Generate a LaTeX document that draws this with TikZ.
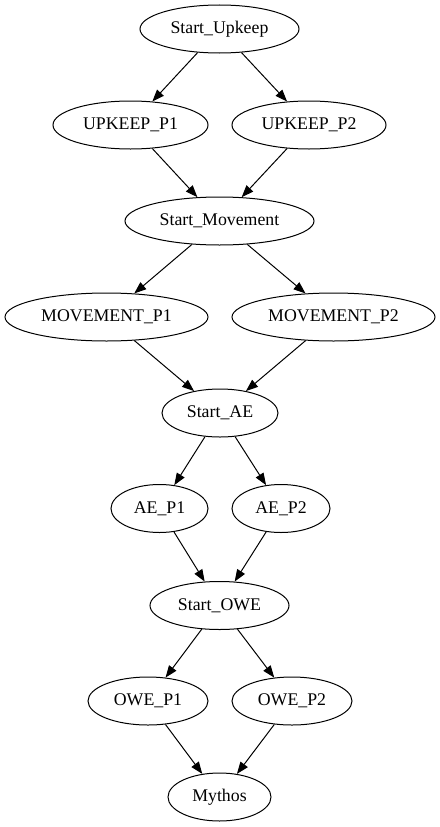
\documentclass[tikz,border=0pt]{standalone}
\usepackage{fontspec}
\setmainfont{Liberation Serif}
\usetikzlibrary{shapes.geometric,arrows.meta}

\begin{document}
\begin{tikzpicture}[x=1bp, y=-1bp, >={Triangle[length=12bp,width=9bp]},
  phase/.style={draw, ellipse, line width=1bp, inner sep=0pt,
    minimum height=48bp, font=\fontsize{17.8bp}{20bp}\selectfont}]

\useasboundingbox (0,0) rectangle (440,827);

% The phase nodes, top to bottom
\foreach \n/\x/\y/\w/\lab in {
  su/219.5/29/159/{Start\_Upkeep},
  up1/130.5/125/155/{UPKEEP\_P1},
  up2/309/125/154/{UPKEEP\_P2},
  sm/219.5/221/189/{Start\_Movement},
  mp1/106.5/317/203/{MOVEMENT\_P1},
  mp2/333.5/317/203/{MOVEMENT\_P2},
  sae/220/413/116/{Start\_AE},
  ae1/159.5/508.5/97/{AE\_P1},
  ae2/281/508.5/98/{AE\_P2},
  sowe/219.5/605.5/139/{Start\_OWE},
  owe1/148/701/120/{OWE\_P1},
  owe2/292/701/120/{OWE\_P2},
  myth/219.5/797/103/{Mythos}} {
  \node [phase, minimum width=\w bp] (\n) at (\x,\y) {\lab};
}

% The arrows between the phases
\foreach \a/\b in {su/up1, su/up2, up1/sm, up2/sm, sm/mp1, sm/mp2,
  mp1/sae, mp2/sae, sae/ae1, sae/ae2, ae1/sowe, ae2/sowe,
  sowe/owe1, sowe/owe2, owe1/myth, owe2/myth} {
  \draw [->, line width=1bp] (\a) -- (\b);
}
\end{tikzpicture}
\end{document}
